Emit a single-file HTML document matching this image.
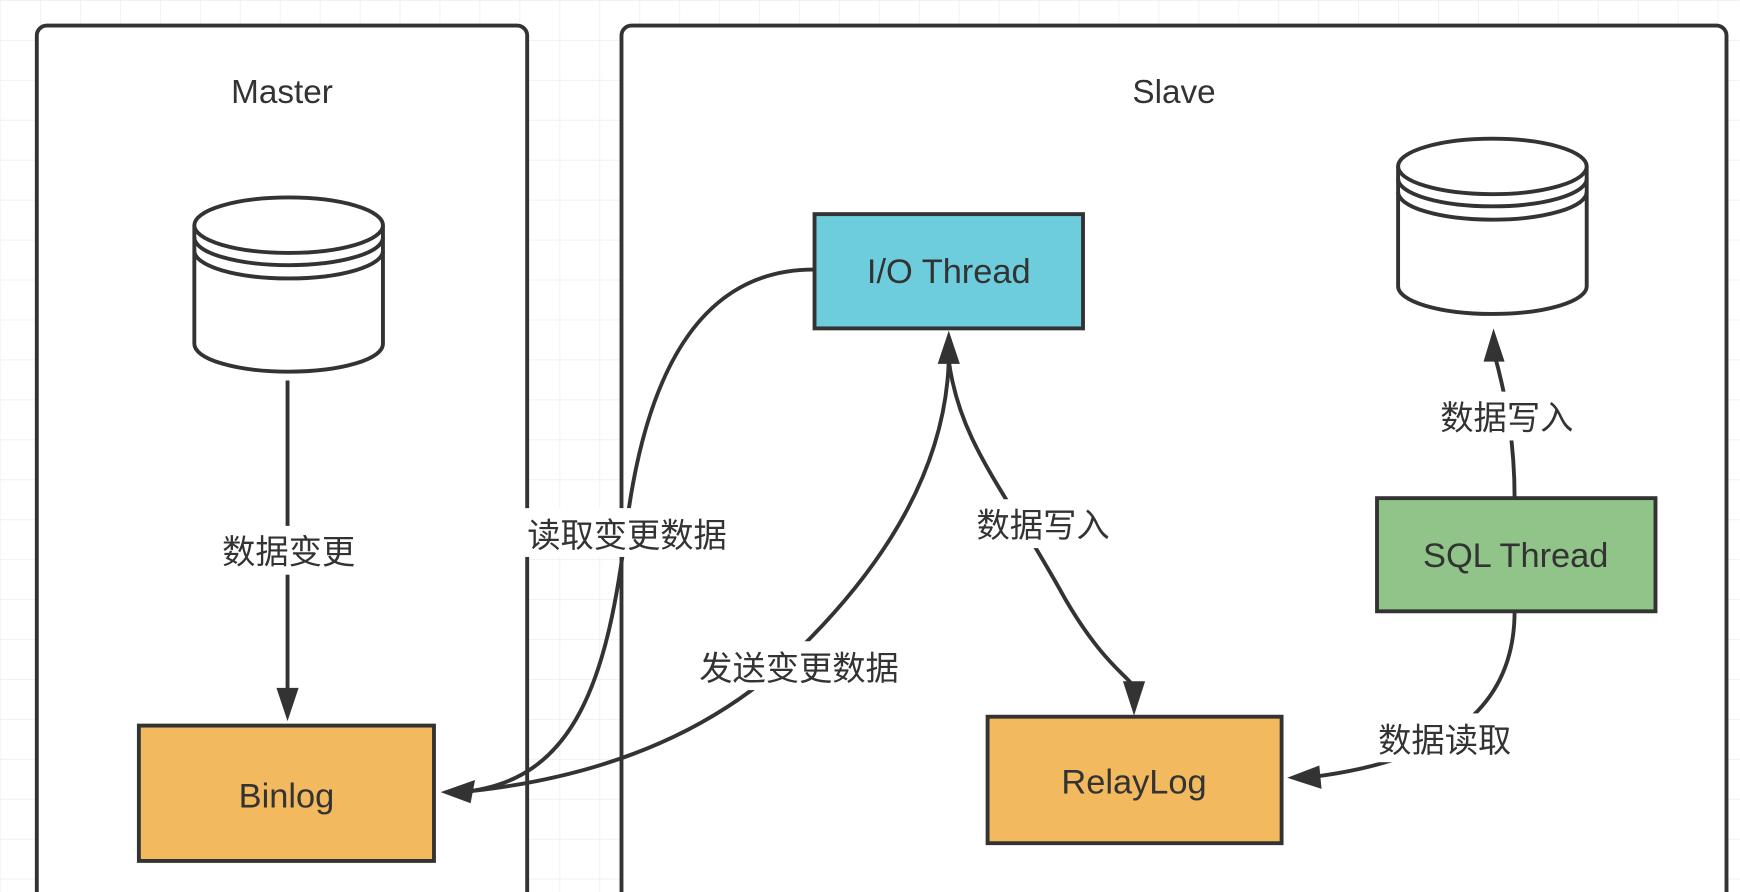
<!DOCTYPE html>
<html><head><meta charset="utf-8"><style>
html,body{margin:0;padding:0;width:1740px;height:892px;overflow:hidden;background:#fff;}
svg{display:block}
text{font-family:"Liberation Sans","Noto Sans CJK SC",sans-serif;fill:#333;}
</style></head><body>
<svg width="1740" height="892" viewBox="0 0 1568 804" xmlns="http://www.w3.org/2000/svg">
<defs>
<pattern id="g" width="36" height="36" patternUnits="userSpaceOnUse">
<path d="M0 0H36M0 0V36" stroke="#efefef" stroke-width="1.5" fill="none"/>
</pattern>
</defs>
<rect width="1568" height="804" fill="#fff"/>
<rect width="1568" height="804" fill="url(#g)"/>
<rect x="33" y="23" width="442" height="800" rx="9" fill="#fff" stroke="#333" stroke-width="3.5"/>
<rect x="560" y="23" width="996" height="800" rx="9" fill="#fff" stroke="#333" stroke-width="3.5"/>
<text x="254" y="93" font-size="30" text-anchor="middle">Master</text>
<text x="1058" y="93" font-size="30" text-anchor="middle">Slave</text>

<g fill="#fff" stroke="#333" stroke-width="3.5">
<path d="M175,203 V310 A85,25 0 0 0 345,310 V203"/>
<ellipse cx="260" cy="203" rx="85" ry="25"/>
<path d="M175,214 A85,25 0 0 0 345,214" fill="none"/>
<path d="M175,226 A85,25 0 0 0 345,226" fill="none"/>
<path d="M1260,150 V258 A85,25 0 0 0 1430,258 V150"/>
<ellipse cx="1345" cy="150" rx="85" ry="25"/>
<path d="M1260,161 A85,25 0 0 0 1430,161" fill="none"/>
<path d="M1260,173 A85,25 0 0 0 1430,173" fill="none"/>
</g>

<g stroke="#333" stroke-width="3.5">
<rect x="125" y="654" width="266" height="122" fill="#f3b95e"/>
<rect x="734" y="193" width="242" height="103" fill="#6ecddc"/>
<rect x="1241" y="449" width="251" height="102" fill="#90c489"/>
<rect x="890" y="646" width="265" height="114" fill="#f3b95e"/>
</g>
<text x="258" y="728" font-size="31" text-anchor="middle">Binlog</text>
<text x="855" y="255" font-size="31" text-anchor="middle">I/O Thread</text>
<text x="1366" y="511" font-size="31" text-anchor="middle">SQL Thread</text>
<text x="1022" y="715" font-size="31" text-anchor="middle">RelayLog</text>

<g fill="none" stroke="#333" stroke-width="3.5">
<path d="M259,343 V625"/>
<path d="M733,243 C640,243 585,320 565,470 C548,610 520,705 415,714"/>
<path d="M415,714 C560,700 650,650 710,595 C800,510 852,420 855,325"/>
<path d="M855,325 C865,400 905,440 960,540 C995,600 1018,610 1022,620"/>
<path d="M1365,449 C1365,400 1358,360 1347,320"/>
<path d="M1365,551 C1365,640 1300,685 1185,700"/>
</g>
<g fill="#333">
<polygon points="259,650 249,620 269,620"/>
<polygon points="397,714 428,703 424,724"/>
<polygon points="855,298 845,328 865,328"/>
<polygon points="1022,645 1012,614 1032,614"/>
<polygon points="1346,296 1337,326 1356,326"/>
<polygon points="1160,701 1189,690 1191,711"/>
</g>

<g font-size="30" text-anchor="middle">
<rect x="190" y="474" width="140" height="44" fill="#fff"/>
<text x="260" y="508">数据变更</text>
<rect x="466" y="458" width="198" height="44" fill="#fff"/>
<text x="565" y="493">读取变更数据</text>
<rect x="620" y="578" width="200" height="44" fill="#fff"/>
<text x="720" y="613">发送变更数据</text>
<rect x="872" y="450" width="136" height="44" fill="#fff"/>
<text x="940" y="484">数据写入</text>
<rect x="1290" y="353" width="136" height="44" fill="#fff"/>
<text x="1358" y="387">数据写入</text>
<rect x="1234" y="643" width="136" height="44" fill="#fff"/>
<text x="1302" y="678">数据读取</text>
</g>
</svg>
</body></html>
